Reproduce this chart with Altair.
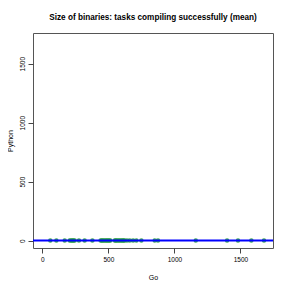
import altair as alt
import pandas as pd

go_sizes = [60, 106, 169, 207, 218, 227, 236, 245, 277, 320, 379, 441, 450, 459, 468, 479, 488,
            497, 506, 515, 548, 556, 565, 575, 586, 596, 606, 615, 623, 641, 662, 687, 712, 750,
            851, 876, 1162, 1399, 1482, 1583, 1679]
python_sizes = [1, 2, 1, 2, 1, 1, 2, 1, 2, 1, 1, 2, 1, 1, 2, 1, 1,
                2, 1, 2, 1, 1, 2, 1, 2, 1, 1, 2, 1, 1, 2, 1, 1, 2,
                1, 2, 1, 2, 1, 2, 1]
fit_intercept = [1.4]

pts = pd.DataFrame({"Go": go_sizes, "Python": python_sizes})
fit = pd.DataFrame({"b": fit_intercept})

xscale = alt.Scale(domain=[-71, 1747], nice=False, zero=False)
yscale = alt.Scale(domain=[-62, 1760], nice=False, zero=False)

points = alt.Chart(pts).mark_circle(size=20, color="#1f9a3a", opacity=0.85).encode(
    x=alt.X("Go:Q", scale=xscale, title="Go",
            axis=alt.Axis(values=[0, 500, 1000, 1500], format="d", grid=False, domain=False,
                          tickColor="#444", tickSize=5, labelFontSize=6.5,
                          labelColor="#000", labelPadding=3, titleFontSize=7,
                          titleFontWeight="normal", titlePadding=11, titleColor="#000",
                          labelFont="Liberation Sans", titleFont="Liberation Sans")),
    y=alt.Y("Python:Q", scale=yscale, title="Python",
            axis=alt.Axis(values=[0, 500, 1000, 1500], format="d", grid=False, domain=False,
                          tickColor="#444", tickSize=5, labelFontSize=6.5,
                          labelColor="#000", labelAngle=270, labelAlign="center",
                          labelBaseline="bottom", labelPadding=3, titleFontSize=7,
                          titleFontWeight="normal", titlePadding=6, titleColor="#000",
                          labelFont="Liberation Sans", titleFont="Liberation Sans")),
)

line = alt.Chart(fit).mark_rule(color="#0000ff", strokeWidth=2).encode(
    y=alt.Y("b:Q", scale=yscale)
)

chart = (points + line).properties(
    width=240,
    height=215,
    background="white",
    title=alt.TitleParams("Size of binaries: tasks compiling successfully (mean)",
                          fontSize=8.2, fontWeight="bold", font="Liberation Sans",
                          anchor="middle", offset=11, color="#000"),
    autosize=alt.AutoSizeParams(type="none"),
    padding={"left": 25, "top": 25, "right": 10, "bottom": 35},
).configure_view(stroke="#555", strokeWidth=1)

chart.save("out.html", embed_options={"renderer": "svg", "actions": False})
